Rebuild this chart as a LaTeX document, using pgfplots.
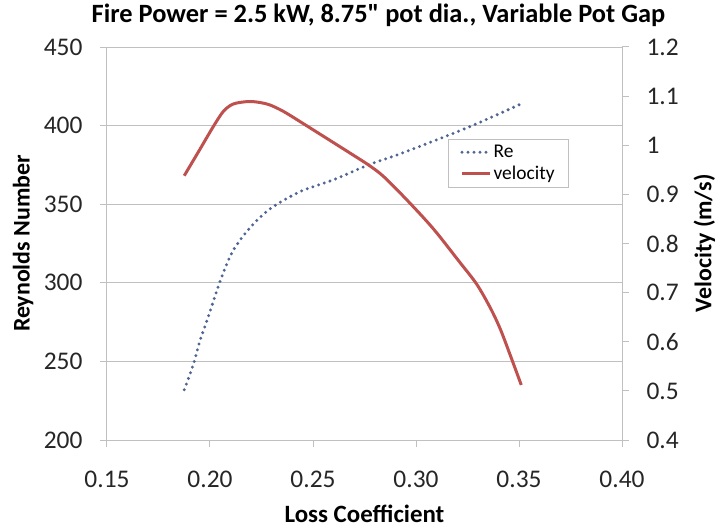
\documentclass[border=0pt]{standalone}
\usepackage{fontspec}
\setmainfont{Carlito}[Ligatures=TeXOff]
\usepackage{pgfplots}
\pgfplotsset{compat=1.18}

\definecolor{reblue}{RGB}{79,102,148}
\definecolor{velred}{RGB}{190,80,78}
\definecolor{gridgray}{RGB}{192,192,192}

\pgfplotsset{
  common/.style={
    scale only axis, width=515bp, height=393bp,
    xmin=0.15, xmax=0.40,
    tick align=outside, major tick length=7bp,
    tick style={gridgray, line width=1bp},
    axis line style={gridgray, line width=1bp},
    /pgf/number format/assume math mode=true,
    tick label style={font=\fontsize{25.5}{27}\selectfont, text=black!85},
    label style={font=\bfseries\fontsize{24}{26}\selectfont},
  }
}

\begin{document}
\begin{tikzpicture}
% left axis: Reynolds number
\begin{axis}[
  common,
  axis y line*=left, axis x line*=bottom,
  ymin=200, ymax=450, ytick={200,250,300,350,400,450},
  xtick={0.15,0.20,0.25,0.30,0.35,0.40},
  xticklabel style={yshift=-20bp, /pgf/number format/.cd, fixed, fixed zerofill, precision=2},
  yticklabel style={xshift=-14bp},
  ymajorgrids, grid style={gridgray, line width=1bp},
  xlabel={Loss Coefficient}, ylabel={Reynolds Number},
  xlabel style={at={(axis description cs:0.5,-0.189)}, anchor=center, font=\bfseries\fontsize{25}{27}\selectfont},
  ylabel style={at={(axis description cs:-0.163,0.5)}, anchor=center},
  title={Fire Power = 2.5 kW, 8.75" pot dia., Variable Pot Gap},
  title style={at={(axis description cs:0.5,1)}, anchor=center, yshift=26bp, xshift=14bp,
    font=\bfseries\fontsize{26.5}{28}\selectfont},
]
\coordinate (O) at (rel axis cs:0,0);
\addplot[reblue, line width=3.3bp, line cap=round, dash pattern=on 0pt off 6bp, smooth, tension=0.5] coordinates {
  (0.1875,232) (0.1919,248) (0.1951,263) (0.1992,278.5) (0.2049,301)
  (0.2110,320) (0.2194,335) (0.2291,347) (0.2437,358) (0.2599,365.5)
  (0.2769,375) (0.2922,382) (0.3246,398.5) (0.3505,413.5)
};
\end{axis}
% right axis: velocity
\begin{axis}[
  common,
  axis y line*=right, axis x line=none,
  ymin=0.4, ymax=1.2, ytick={0.4,0.5,0.6,0.7,0.8,0.9,1,1.1,1.2},
  yticklabel style={xshift=14bp, /pgf/number format/.cd, fixed},
  ylabel={Velocity (m/s)},
  ylabel style={at={(axis description cs:1.16,0.5)}, anchor=center},
  legend style={at={(0.662,0.766)}, anchor=north west, draw=gridgray, line width=0.8bp,
    font=\fontsize{19.5}{21}\selectfont, row sep=3bp, inner xsep=12bp, inner ysep=4bp},
  legend cell align=left,
  legend image code/.code={\draw[#1] (0bp,0bp) -- (28bp,0bp);},
]
\addlegendimage{reblue, line width=3.3bp, line cap=round, dash pattern=on 0pt off 6bp}
\addlegendentry{Re}
\addplot[velred, line width=3bp, smooth, tension=0.5] coordinates {
  (0.1875,0.938) (0.1950,0.991) (0.2016,1.038) (0.2065,1.069) (0.2113,1.084)
  (0.2186,1.089) (0.2243,1.087) (0.2291,1.082) (0.2356,1.069) (0.2453,1.044)
  (0.2680,0.984) (0.2769,0.960) (0.2841,0.937) (0.2955,0.889) (0.3084,0.830)
  (0.3214,0.761) (0.3295,0.717) (0.3362,0.668) (0.3410,0.625) (0.3459,0.571)
  (0.3511,0.512)
};
\addlegendentry{velocity}
\end{axis}
\pgfresetboundingbox
\path[use as bounding box] ([shift={(-107bp,-91bp)}]O) rectangle ([shift={(613bp,440bp)}]O);
\end{tikzpicture}
\end{document}
